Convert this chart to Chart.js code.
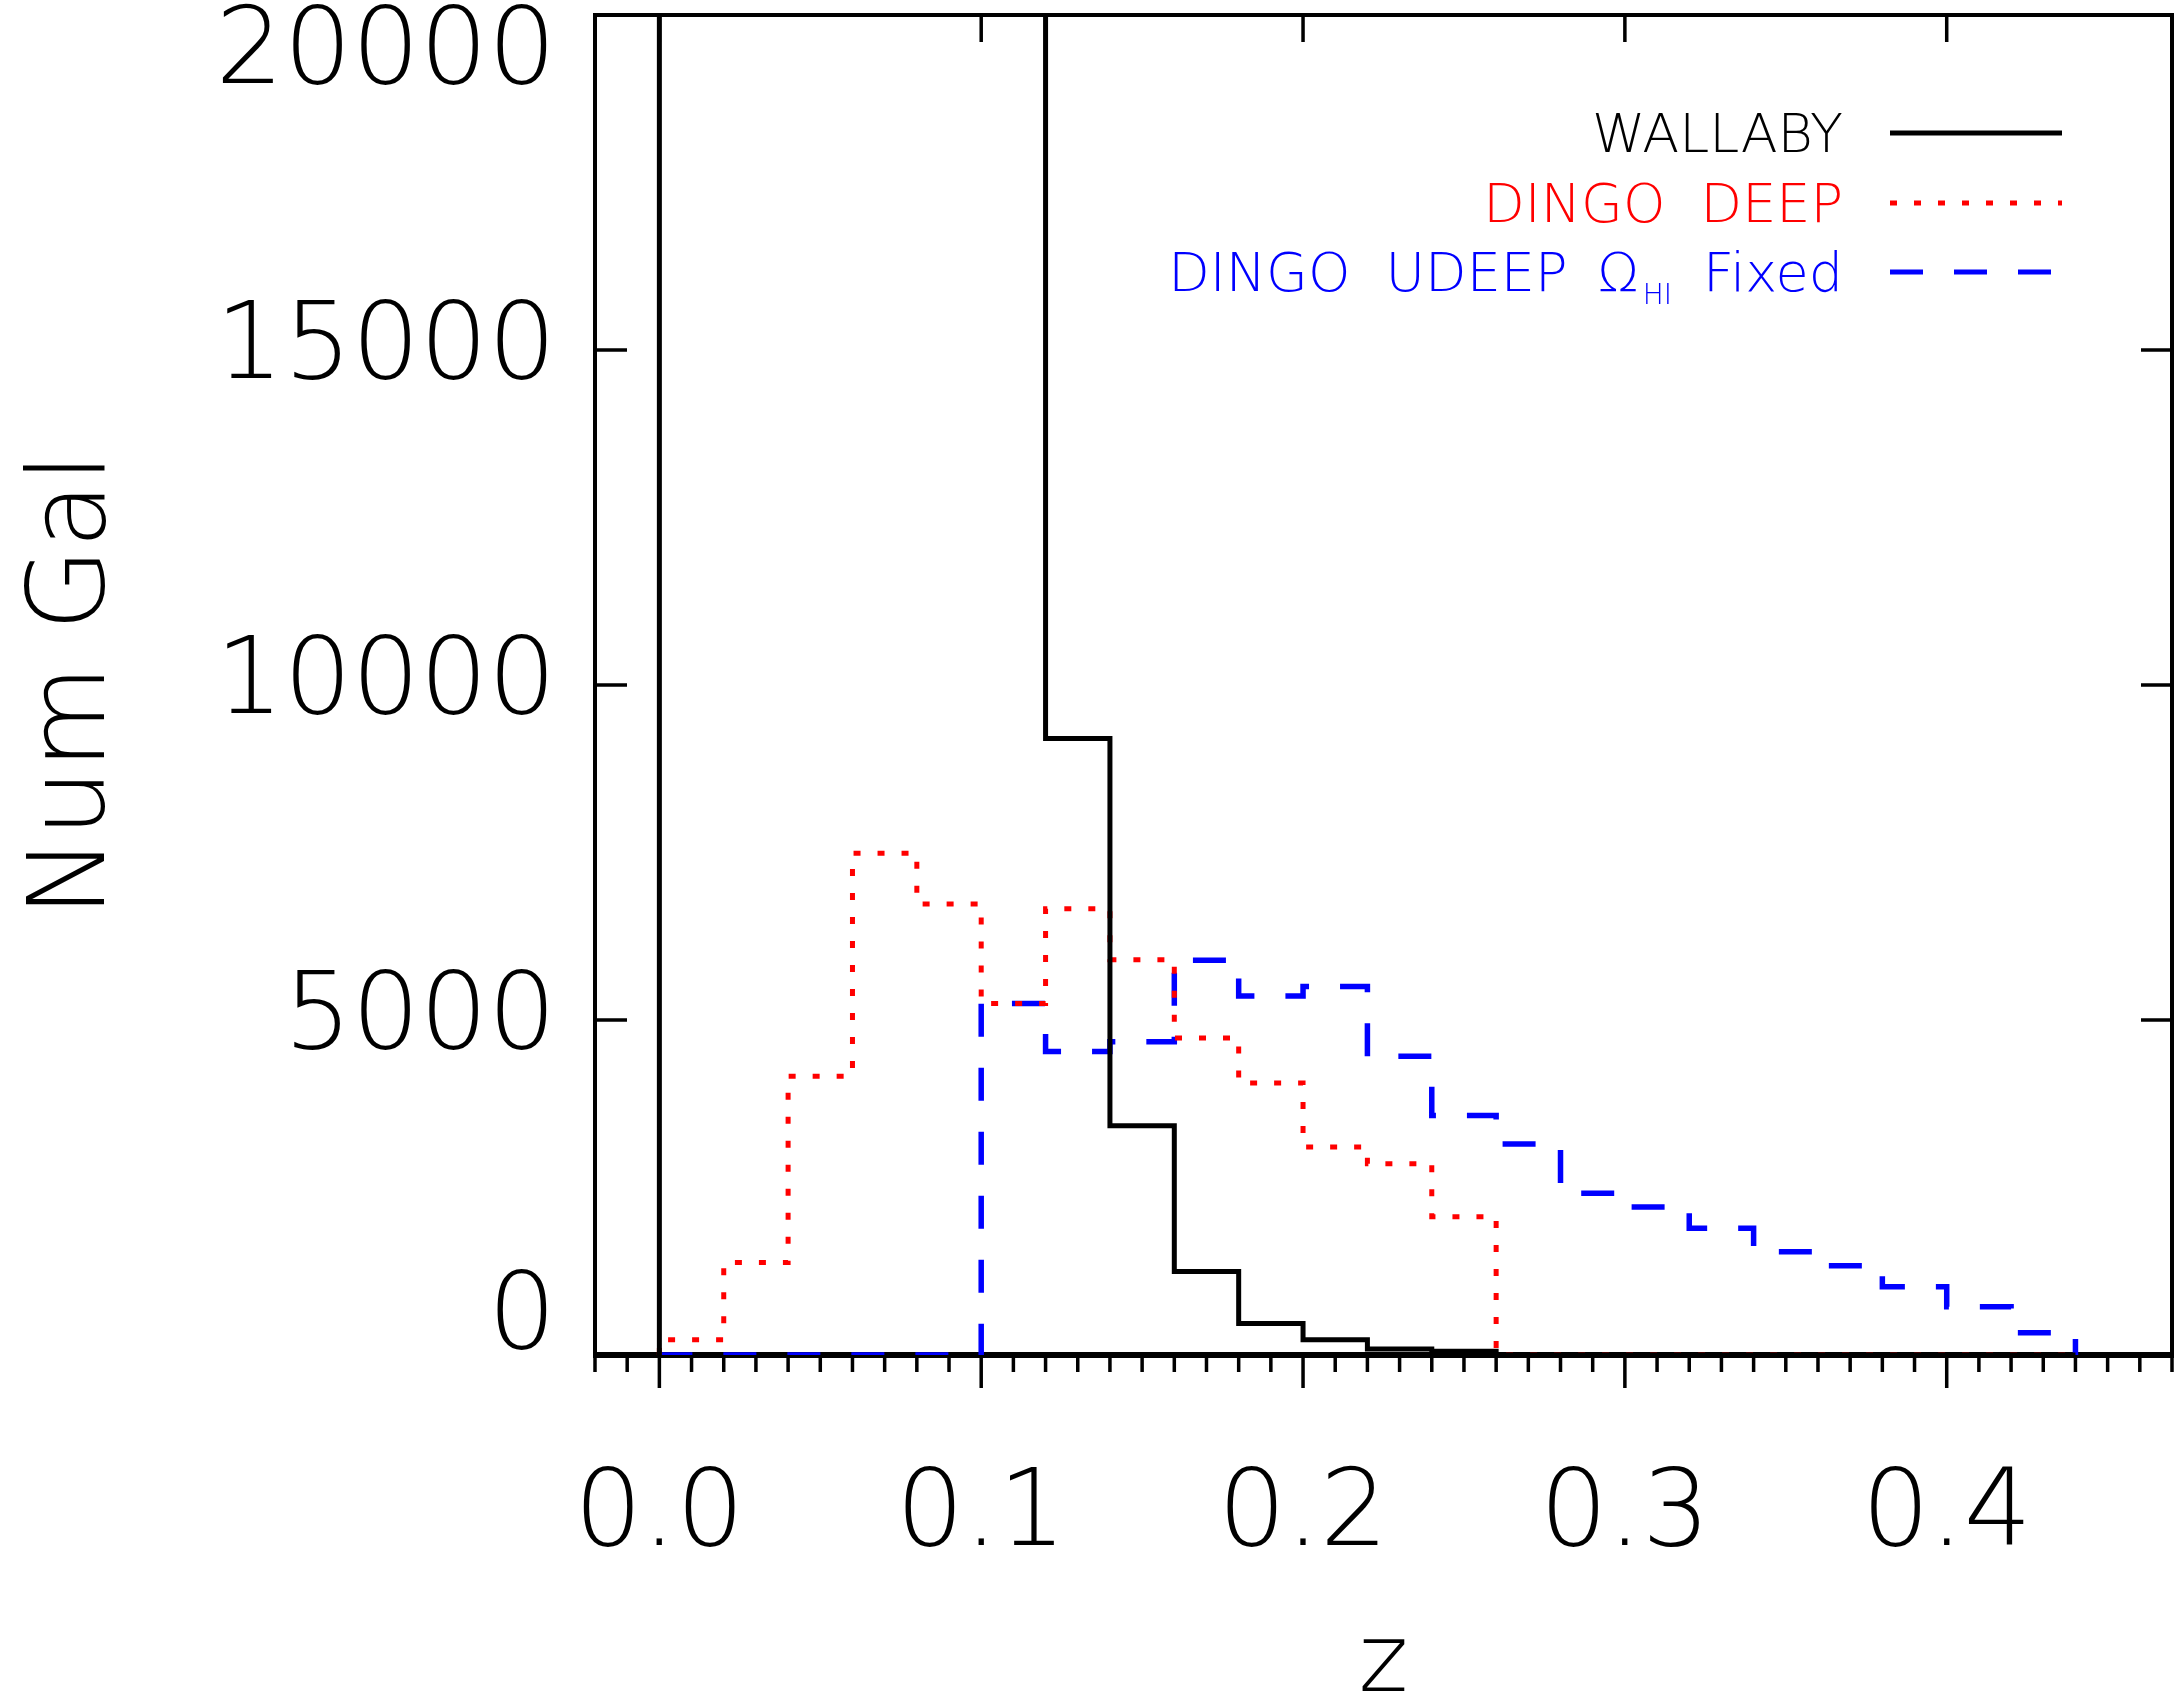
<!DOCTYPE html>
<html>
<head>
<meta charset="utf-8">
<script src="https://cdn.jsdelivr.net/npm/chart.js@4.4.0/dist/chart.umd.min.js"></script>
<style>
  html, body { margin: 0; padding: 0; background: #fff; }
  #wrap { width: 2179px; height: 1700px; position: relative; }
</style>
</head>
<body>
<div id="wrap"><canvas id="myChart"></canvas></div>
<script>
// bin edges in z (bins are 0.02 wide), one count per bin below
const zEdges = [0.00, 0.02, 0.04, 0.06, 0.08, 0.10, 0.12, 0.14, 0.16, 0.18, 0.20, 0.22,
  0.24, 0.26, 0.28, 0.30, 0.32, 0.34, 0.36, 0.38, 0.40, 0.42, 0.44];

// the first six WALLABY bins are off the top of the plot (> 20000), rough guesses
const wallaby = [30000, 90000, 110000, 90000, 60000, 32000, 9200, 3420, 1245, 470, 228, 88,
  55, 0, 0, 0, 0, 0, 0, 0, 0, 0];
const dingoDeep = [228, 1380, 4160, 7490, 6730, 5245, 6660, 5900, 4730, 4060, 3105, 2855,
  2065, 0, 0, 0, 0, 0, 0, 0, 0, 0];
const dingoUdeep = [0, 0, 0, 0, 0, 5245, 4530, 4675, 5890, 5360, 5500, 4460,
  3573, 3150, 2413, 2210, 1890, 1542, 1333, 1020, 721, 333];

const seriesNames = ["WALLABY", "DINGO DEEP", "DINGO UDEEP \u03A9HI Fixed"];
const seriesColors = ["#000000", "#ff0000", "#0000ff"];
const seriesDash = [[], [7, 17], [33, 31]];
const seriesWidth = [5, 5, 5.5];

const yStep = 5000;
const xStep = 0.01; // minor ticks, labels every 0.1

const FONT = "'DejaVu Sans', 'Liberation Sans', sans-serif";

function isMajor(v) {
  return Math.abs(v * 10 - Math.round(v * 10)) < 1e-6;
}

// histogram outline: rise at the first edge, flat across each bin, drop at the last edge
function histPoints(vals) {
  const pts = [{ x: zEdges[0], y: 0 }];
  vals.forEach((v, i) => pts.push({ x: zEdges[i], y: v }));
  pts.push({ x: zEdges[zEdges.length - 1], y: 0 });
  return pts;
}

// IDL style box with inward ticks, outward ticks on the bottom axis
const framePlugin = {
  id: "frame",
  beforeDatasetsDraw(chart) {
    const { ctx, chartArea: a, scales } = chart;
    const x = scales.x, y = scales.y;
    ctx.save();
    ctx.strokeStyle = "#000";
    ctx.lineWidth = 4;
    ctx.strokeRect(a.left, a.top, a.right - a.left, a.bottom - a.top);
    ctx.lineWidth = 6;
    ctx.beginPath();
    ctx.moveTo(a.left - 2, a.bottom);
    ctx.lineTo(a.right + 2, a.bottom);
    ctx.stroke();

    ctx.lineWidth = 3.5;
    ctx.beginPath();
    x.ticks.forEach((t) => {
      const px = x.getPixelForValue(t.value);
      const major = isMajor(t.value);
      ctx.moveTo(px, a.bottom);
      ctx.lineTo(px, a.bottom + (major ? 33 : 17));
      if (major) {
        ctx.moveTo(px, a.top);
        ctx.lineTo(px, a.top + 27);
      }
    });
    y.ticks.forEach((t) => {
      const py = y.getPixelForValue(t.value);
      ctx.moveTo(a.left, py);
      ctx.lineTo(a.left + 32, py);
      ctx.moveTo(a.right, py);
      ctx.lineTo(a.right - 31, py);
    });
    ctx.stroke();
    ctx.restore();
  },
};

// legend: text right aligned, line sample on the right
const legendPlugin = {
  id: "sideLegend",
  afterDraw(chart) {
    const { ctx, chartArea: a } = chart;
    const textRight = a.right - 329;
    const lineL = a.right - 282, lineR = a.right - 110;
    const rowY = [a.top + 118, a.top + 188, a.top + 257];
    const main = "200 54px " + FONT;
    const sub = "200 28px " + FONT;

    ctx.save();
    ctx.wordSpacing = "18px";
    chart.data.datasets.forEach((ds, i) => {
      const yy = rowY[i];
      ctx.strokeStyle = ds.borderColor;
      ctx.lineWidth = 5;
      ctx.setLineDash(ds.borderDash || []);
      ctx.beginPath();
      ctx.moveTo(lineL, yy);
      ctx.lineTo(lineR, yy);
      ctx.stroke();

      ctx.fillStyle = ds.borderColor;
      ctx.textAlign = "right";
      ctx.textBaseline = "alphabetic";
      const base = yy + 19;
      ctx.font = main;
      if (i < 2) {
        ctx.fillText(ds.label, textRight, base);
      } else {
        let xr = textRight;
        ctx.fillText("Fixed", xr, base);
        xr -= ctx.measureText("Fixed").width + 31;
        ctx.font = sub;
        ctx.fillText("HI", xr, base + 13);
        xr -= ctx.measureText("HI").width + 4;
        ctx.font = main;
        ctx.fillText("\u03A9", xr, base);
        xr -= ctx.measureText("\u03A9").width + 30;
        ctx.fillText("DINGO UDEEP", xr, base);
      }
    });
    ctx.restore();
  },
};

const allSeries = [wallaby, dingoDeep, dingoUdeep];

const ctx = document.getElementById("myChart").getContext("2d");
const myChart = new Chart(ctx, {
  type: "line",
  data: {
    datasets: allSeries.map((vals, i) => ({
      label: seriesNames[i],
      data: histPoints(vals),
      borderColor: seriesColors[i],
      borderDash: seriesDash[i],
      borderWidth: seriesWidth[i],
      stepped: "before",
      pointRadius: 0,
      fill: false,
    })),
  },
  options: {
    responsive: true,
    maintainAspectRatio: false,
    animation: false,
    layout: { padding: { left: 0, right: 7, top: 15, bottom: 0 } },
    plugins: {
      legend: { display: false },
      tooltip: { enabled: false },
    },
    scales: {
      x: {
        type: "linear",
        min: -0.02,
        max: 0.47,
        grid: { display: false, drawTicks: false },
        border: { display: false },
        ticks: {
          stepSize: xStep,
          autoSkip: false,
          maxRotation: 0,
          minRotation: 0,
          padding: 98,
          color: "#000",
          font: { family: FONT, size: 107, weight: 200 },
          callback: (v) => (isMajor(v) ? v.toFixed(1) : ""),
        },
        title: {
          display: true,
          text: "z",
          color: "#000",
          font: { family: FONT, size: 95, weight: 200, lineHeight: 0.7 },
          padding: 0,
        },
        afterFit: (s) => {
          s.height = 345;
          s.paddingLeft = 0;
          s.paddingRight = 0;
        },
      },
      y: {
        min: 0,
        max: 20000,
        grid: { display: false, drawTicks: false },
        border: { display: false },
        ticks: {
          stepSize: yStep,
          padding: 39,
          color: "#000",
          // end labels are nudged inside the axis range, like the original
          callback: (v) => (v == 20000 ? ["", "20000"] : v == 0 ? ["0", ""] : String(v)),
          font: (c) => {
            const v = c.tick ? c.tick.value : null;
            let lh = 1.2;
            if (v == 20000) lh = "80px";
            if (v == 0) lh = "70px";
            return { family: FONT, size: 107, weight: 200, lineHeight: lh };
          },
        },
        title: {
          display: true,
          text: "Num Gal",
          color: "#000",
          font: { family: FONT, size: 107, weight: 200 },
          padding: { top: 12, bottom: 0 },
        },
        afterFit: (s) => {
          s.width = 595;
          s.paddingTop = 0;
          s.paddingBottom = 0;
        },
      },
    },
  },
  plugins: [framePlugin, legendPlugin],
});
</script>
</body>
</html>
